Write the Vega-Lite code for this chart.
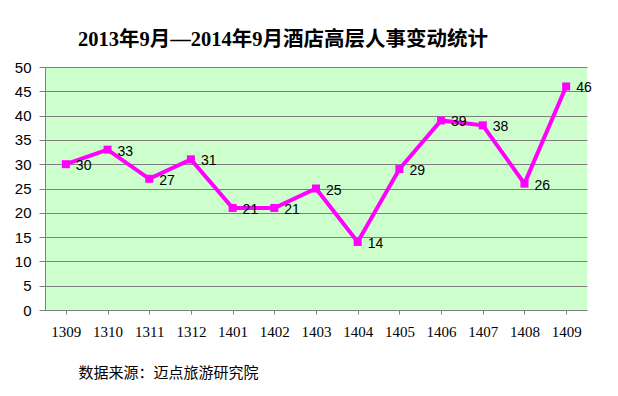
{
  "$schema": "https://vega.github.io/schema/vega-lite/v6.json",
  "width": 542,
  "height": 243,
  "autosize": {"type": "none"},
  "padding": {"left": 45, "top": 67, "right": 31, "bottom": 86},
  "background": "white",
  "title": {
    "text": "2013年9月—2014年9月酒店高层人事变动统计",
    "font": "Liberation Serif, Noto Sans CJK SC",
    "fontSize": 20.5,
    "fontWeight": "bold",
    "color": "#000000",
    "anchor": "start",
    "frame": "group",
    "dx": 33,
    "offset": 10
  },
  "data": {
    "values": [
      {"month": "1309", "count": 30},
      {"month": "1310", "count": 33},
      {"month": "1311", "count": 27},
      {"month": "1312", "count": 31},
      {"month": "1401", "count": 21},
      {"month": "1402", "count": 21},
      {"month": "1403", "count": 25},
      {"month": "1404", "count": 14},
      {"month": "1405", "count": 29},
      {"month": "1406", "count": 39},
      {"month": "1407", "count": 38},
      {"month": "1408", "count": 26},
      {"month": "1409", "count": 46}
    ]
  },
  "encoding": {
    "x": {
      "field": "month",
      "type": "ordinal",
      "scale": {"paddingInner": 0, "paddingOuter": 0},
      "axis": {
        "title": "数据来源：迈点旅游研究院",
        "titleFont": "Noto Sans CJK SC",
        "titleFontSize": 15,
        "titleFontWeight": "normal",
        "titleColor": "#000000",
        "titleAlign": "left",
        "titleAnchor": "start",
        "titleX": 33,
        "titleY": 55,
        "labelAngle": 0,
        "labelFont": "Liberation Serif",
        "labelFontSize": 15,
        "labelColor": "#000000",
        "labelPadding": 10,
        "bandPosition": 0,
        "tickColor": "#808080",
        "tickSize": 4,
        "domainColor": "#808080",
        "grid": false
      }
    },
    "y": {
      "field": "count",
      "type": "quantitative",
      "scale": {"domain": [0, 50], "nice": false},
      "axis": {
        "title": null,
        "values": [0, 5, 10, 15, 20, 25, 30, 35, 40, 45, 50],
        "labelFont": "Liberation Sans",
        "labelFontSize": 15,
        "labelColor": "#000000",
        "labelPadding": 8,
        "tickColor": "#808080",
        "tickSize": 6,
        "domainColor": "#808080",
        "gridColor": "#808080",
        "gridOpacity": 1,
        "gridWidth": 1
      }
    }
  },
  "layer": [
    {
      "mark": {"type": "line", "color": "#FF00FF", "strokeWidth": 4}
    },
    {
      "mark": {"type": "point", "shape": "square", "filled": true, "color": "#FF00FF", "size": 64, "opacity": 1}
    },
    {
      "mark": {"type": "text", "align": "left", "baseline": "middle", "dx": 10, "dy": 2, "font": "Liberation Sans", "fontSize": 14, "color": "#000000"},
      "encoding": {"text": {"field": "count", "type": "quantitative"}}
    }
  ],
  "config": {
    "view": {"fill": "#CCFFCC", "stroke": null}
  }
}
